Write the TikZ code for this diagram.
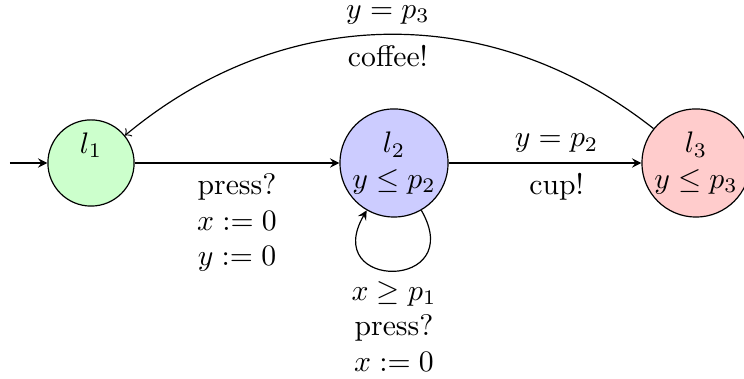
\documentclass[tikz,border=0pt]{standalone}
\usepackage{amsmath, amssymb}
\usepackage{tikz}

\begin{document}
\begin{tikzpicture}[x=1cm, y=1cm,
  loc/.style={draw, circle, inner sep=0pt, minimum size=1.02cm, align=center}]

\useasboundingbox (-1.077,-2.556) rectangle (7.728,1.929);

\node[loc, fill=green!20] (l1) at (0,0) {$l_1$\\\phantom{$l_1$}};
\node[loc, fill=blue!20, minimum size=1.28cm] (l2) at (3.586,0) {$l_2$\\$y \leq p_2$};
\node[loc, fill=red!20, minimum size=1.28cm] (l3) at (7.16,0) {$l_3$\\$y \leq p_3$};
\coordinate (init) at (-0.96,0);

\draw[-stealth] (init) -- (l1);
\draw[-stealth] (l1) -- node[below, align=center] {press?\\$x := 0$\\$y := 0$} (l2);
\draw[-stealth] (l2) -- node[above, pos=0.56] {$y = p_2$} node[below, pos=0.56] {cup!} (l3);
\draw[->] (l3) to[bend right=39] node[above] {$y = p_3$} node[below] {coffee!} (l1);
\draw[-stealth] (l2) to[out=-60, in=-120, min distance=11mm] node[below, align=center] {$x \geq p_1$\\press?\\$x := 0$} (l2);

\end{tikzpicture}
\end{document}
